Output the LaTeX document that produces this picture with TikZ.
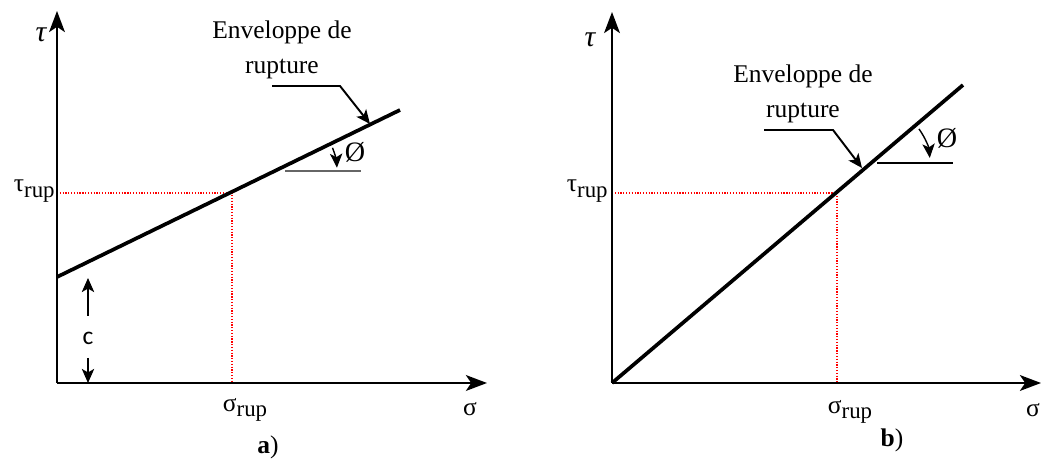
\documentclass[tikz,border=0pt]{standalone}
\usepackage{fontspec}
\setmainfont{Liberation Serif}
\newfontfamily\labelsans{Carlito}
\usetikzlibrary{arrows.meta}
\colorlet{guidered}{red}
\colorlet{inkmuted}{black!60}
\tikzset{axis/.style={line width=1.2pt, -{Stealth[length=12pt,width=9pt,inset=3pt]}},
  envelope/.style={line width=2.1pt},
  guide/.style={guidered, dash pattern=on 0.7pt off 0.9pt, line width=0.7pt},
  leader/.style={line width=1.1pt, -{Stealth[length=8pt,width=7pt,inset=2pt]}},
  lbl/.style={font=\fontsize{14.5}{19.5}\selectfont, inner sep=0pt}}
\newcommand{\rupof}[1]{#1\raisebox{-0.45ex}{\fontsize{13}{13}\selectfont rup}}

\begin{document}
\begin{tikzpicture}[x=0.02cm, y=0.02cm]
\useasboundingbox (0,0) rectangle (1043,462);
  \begin{scope}
\coordinate (Oa) at (57,79); \coordinate (Ya) at (57,451); \coordinate (Xa) at (487,79);
\coordinate (Ea0) at (57,185); \coordinate (Ea1) at (400,352);
\coordinate (Ra) at (232,269); \coordinate (RaY) at (57,269); \coordinate (RaX) at (232,79);
\draw[guide] (RaY) -- (Ra) -- (RaX);
\draw[axis] (Oa) -- (Ya); \draw[axis] (Oa) -- (Xa);
\draw[envelope] (Ea0) -- (Ea1);
\node[lbl, font=\fontsize{17}{17}\selectfont] (taua) at (41,427) {\itshape τ};
\node[lbl, anchor=east] (taurupa) at (55,271) {\rupof{τ}};
\node[lbl] (sigrupa) at (245,52) {\rupof{σ}};
\node[lbl] (siga) at (470,53) {σ};
\node[lbl, align=center] (enva) at (282,412) {Enveloppe de\\rupture};
\coordinate (La0) at (272,376); \coordinate (La1) at (340,376); \coordinate (La2) at (370,338);
\draw[leader] (La0) -- (La1) -- (La2);
\coordinate (Ca) at (275,291); \coordinate (Ha0) at (285,291); \coordinate (Ha1) at (361,291);
\draw[inkmuted, line width=1.2pt] (Ha0) -- (Ha1);
\draw[leader, line width=0.8pt] ([shift={(22:62)}]Ca) arc (22:3:62);
\node[lbl, font=\fontsize{16}{16}\selectfont] (phia) at (355,310) {Ø};
\coordinate (Cup0) at (88,146); \coordinate (Cup1) at (88,184);
\coordinate (Cdn0) at (88,104); \coordinate (Cdn1) at (88,79);
\node[lbl] (ca) at (88,124) {\labelsans c};
\draw[leader] (Cup0) -- (Cup1); \draw[leader] (Cdn0) -- (Cdn1);
\node[lbl] (capa) at (268,15) {\textbf{a})};
\end{scope}
\begin{scope}
\coordinate (Ob) at (612,79); \coordinate (Yb) at (612,450); \coordinate (Xb) at (1041,79);
\coordinate (Eb1) at (963,377);
\coordinate (Rb) at (837,269); \coordinate (RbY) at (612,269); \coordinate (RbX) at (837,79);
\draw[guide] (RbY) -- (Rb) -- (RbX);
\draw[axis] (Ob) -- (Yb); \draw[axis] (Ob) -- (Xb);
\draw[envelope] (Ob) -- (Eb1);
\node[lbl, font=\fontsize{17}{17}\selectfont] (taub) at (590,422) {\itshape τ};
\node[lbl, anchor=east] (taurupb) at (608,271) {\rupof{τ}};
\node[lbl] (sigrupb) at (850,50) {\rupof{σ}};
\node[lbl] (sigb) at (1033,52) {σ};
\node[lbl, align=center] (envb) at (803,368) {Enveloppe de\\rupture};
\coordinate (Lb0) at (764,332); \coordinate (Lb1) at (833,332); \coordinate (Lb2) at (862,294);
\draw[leader] (Lb0) -- (Lb1) -- (Lb2);
\coordinate (Cb) at (872,299); \coordinate (Hb0) at (877,299); \coordinate (Hb1) at (953,299);
\draw[line width=1pt] (Hb0) -- (Hb1);
\draw[leader, line width=0.8pt] ([shift={(36:58)}]Cb) arc (36:5:58);
\node[lbl, font=\fontsize{16}{16}\selectfont] (phib) at (947,324) {Ø};
\node[lbl] (capb) at (892,22) {\textbf{b})};
\end{scope}

\end{tikzpicture}
\end{document}
